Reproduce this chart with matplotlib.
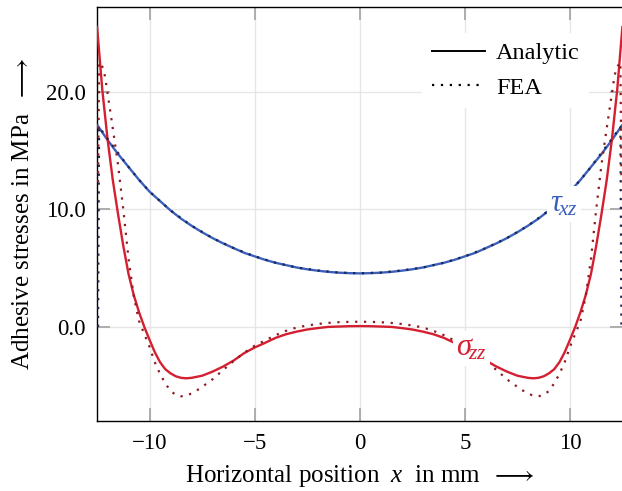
import matplotlib
matplotlib.use("Agg")
import matplotlib.pyplot as plt
from matplotlib.lines import Line2D

plt.rcParams['font.family'] = ['Liberation Serif', 'DejaVu Serif']
plt.rcParams['mathtext.fontset'] = 'custom'
plt.rcParams['mathtext.rm'] = 'Liberation Serif'
plt.rcParams['mathtext.it'] = 'Liberation Serif:italic'
plt.rcParams['mathtext.bf'] = 'Liberation Serif:bold'

# ---- data ----
x_tau = [-12.5, -12, -11.5, -11, -10.5, -10, -9.5, -9, -8.5, -8, -7.5, -7, -6.5, -6, -5.5, -5,
         -4.5, -4, -3.5, -3, -2.5, -2, -1.5, -1, -0.5, 0,
         0.5, 1, 1.5, 2, 2.5, 3, 3.5, 4, 4.5, 5, 5.5, 6, 6.5, 7, 7.5, 8, 8.5, 9, 9.5, 10,
         10.5, 11, 11.5, 12, 12.5]
tau_analytic = [17.2, 15.9, 14.7, 13.6, 12.5, 11.5, 10.7, 9.9, 9.2, 8.6, 8.05, 7.55, 7.1, 6.7, 6.3, 6.0,
                5.7, 5.45, 5.25, 5.05, 4.9, 4.78, 4.68, 4.61, 4.57, 4.55,
                4.57, 4.61, 4.68, 4.78, 4.9, 5.05, 5.25, 5.45, 5.7, 6.0, 6.3, 6.7, 7.1, 7.55, 8.05, 8.6,
                9.2, 9.9, 10.7, 11.5, 12.5, 13.6, 14.7, 15.9, 17.2]

x_sig = [-12.5, -12.25, -12, -11.75, -11.5, -11.25, -11, -10.75, -10.5, -10.25, -10, -9.75, -9.5,
         -9.25, -9, -8.75, -8.5, -8.25, -8, -7.5, -7, -6.5, -6, -5.5, -5, -4.5, -4, -3.5, -3,
         -2.5, -2, -1.5, -1, -0.5, 0,
         0.5, 1, 1.5, 2, 2.5, 3, 3.5, 4, 4.5, 5, 5.5, 6, 6.5, 7, 7.5, 8, 8.25, 8.5, 8.75, 9,
         9.25, 9.5, 9.75, 10, 10.25, 10.5, 10.75, 11, 11.25, 11.5, 11.75, 12, 12.25, 12.5]
sig_analytic = [25.6, 20.2, 16.0, 12.5, 9.6, 6.9, 4.5, 2.7, 1.25, 0.0, -1.1, -2.15, -3.0,
                -3.6, -3.95, -4.2, -4.33, -4.37, -4.33, -4.15, -3.8, -3.37, -2.86, -2.23, -1.75,
                -1.35, -0.93, -0.62, -0.4, -0.22, -0.1, 0.0, 0.03, 0.06, 0.07,
                0.06, 0.03, 0.0, -0.1, -0.22, -0.4, -0.62, -0.93, -1.35, -1.75, -2.23, -2.86,
                -3.37, -3.8, -4.15, -4.33, -4.37, -4.33, -4.2, -3.95, -3.6, -3.0, -2.15, -1.1,
                0.0, 1.25, 2.7, 4.5, 6.9, 9.6, 12.5, 16.0, 20.2, 25.6]

x_fea_tau = [-12.45, -12.4, -12, -11.5, -11, -10.5, -10, -9, -8, -7, -6, -5, -4, -3, -2, -1, 0,
             1, 2, 3, 4, 5, 6, 7, 8, 9, 10, 10.5, 11, 11.5, 12, 12.4, 12.45]
tau_fea = [0.0, 17.0, 16.0, 14.8, 13.6, 12.5, 11.5, 9.9, 8.6, 7.55, 6.7, 6.0, 5.45, 5.05, 4.8, 4.62, 4.56,
           4.62, 4.8, 5.05, 5.45, 6.0, 6.7, 7.55, 8.6, 9.9, 11.5, 12.5, 13.6, 14.8, 16.0, 17.0, 0.0]

x_fea_sig = [-12.45, -12.4, -12.2, -12.1, -12, -11.75, -11.5, -11.25, -11, -10.75, -10.5, -10.25,
             -10, -9.75, -9.5, -9.25, -9, -8.75, -8.5, -8.25, -8, -7.75, -7.5, -7, -6.5, -6,
             -5.5, -5, -4.5, -4, -3.5, -3, -2.5, -2, -1.5, -1, -0.5, 0,
             0.5, 1, 1.5, 2, 2.5, 3, 3.5, 4, 4.5, 5, 5.5, 6, 6.5, 7, 7.5, 7.75, 8, 8.25, 8.5,
             8.75, 9, 9.25, 9.5, 9.75, 10, 10.25, 10.5, 10.75, 11, 11.25, 11.5, 11.75, 12,
             12.1, 12.2, 12.4, 12.45]
sig_fea = [12.3, 22.5, 22.0, 21.1, 19.9, 16.9, 13.8, 10.0, 5.8, 2.6, 0.5, -0.6,
           -1.7, -3.0, -4.0, -4.8, -5.45, -5.78, -5.9, -5.85, -5.65, -5.4, -5.1, -4.45, -3.66, -2.9,
           -2.2, -1.6, -1.15, -0.7, -0.33, -0.05, 0.12, 0.25, 0.34, 0.4, 0.43, 0.44,
           0.43, 0.4, 0.34, 0.25, 0.12, -0.05, -0.33, -0.7, -1.15, -1.6, -2.2, -2.9, -3.66,
           -4.45, -5.1, -5.4, -5.65, -5.85, -5.9, -5.78, -5.45, -4.8, -4.0, -3.0, -1.7, -0.6,
           0.5, 2.6, 5.8, 10.0, 13.8, 16.9, 19.9, 21.1, 22.0, 22.5, 12.3]

x_ticks = [-10, -5, 0, 5, 10]
y_ticks = [0, 10, 20]
y_tick_labels = ['0.0', '10.0', '20.0']

# ---- styles ----
RED = '#d41f30'
BLUE = '#3a5fbf'
DRED = '#8c1a22'
NAVY = '#1f2748'

fig = plt.figure(figsize=(6.22, 4.91), dpi=100)
ax = fig.add_axes([97 / 622, 70 / 491, 525.5 / 622, 414 / 491])

ax.plot(x_tau, tau_analytic, color=BLUE, lw=1.7, solid_capstyle='butt', zorder=3)
ax.plot(x_sig, sig_analytic, color=RED, lw=1.7, solid_capstyle='butt', zorder=3)
ax.plot(x_fea_tau, tau_fea, color=NAVY, lw=1.6, linestyle=(0, (1, 3)), zorder=4)
ax.plot(x_fea_sig, sig_fea, color=DRED, lw=1.6, linestyle=(0, (1, 3)), zorder=4)

ax.text(9.71, 10.45, r'$\tau_{\!xz}$', color=BLUE, fontsize=22, ha='center', va='center', zorder=5,
        bbox=dict(boxstyle='square,pad=0.1', fc='white', ec='none'))
ax.text(5.3, -1.8, r'$\sigma_{\!zz}$', color=RED, fontsize=22, ha='center', va='center', zorder=5,
        bbox=dict(boxstyle='square,pad=0.1', fc='white', ec='none'))

ax.set_xlim(-12.5, 12.5)
ax.set_ylim(-8.0, 27.2)
ax.set_xticks(x_ticks)
ax.set_xticklabels(['\u2212' + str(abs(t)) if t < 0 else str(t) for t in x_ticks])
ax.set_yticks(y_ticks)
ax.set_yticklabels(y_tick_labels)
ax.tick_params(direction='in', length=9.5, width=1.3, color='#a8a8a8', labelsize=16.5,
               top=True, right=True, pad=8.5)
ax.tick_params(axis='y', pad=8)
ax.grid(True, color='#e6e6e6', lw=1.0, zorder=0)
ax.set_axisbelow(True)
for s in ax.spines.values():
    s.set_linewidth(1.0)
    s.set_color('black')

ax.set_xlabel(r'Horizontal position $\ x\ $ in mm $\ \longrightarrow$', fontsize=18, labelpad=6.5)
ax.set_ylabel(r'Adhesive stresses in MPa $\ \longrightarrow$', fontsize=18, labelpad=9)

handles = [Line2D([], [], color='black', lw=1.4),
           Line2D([], [], color='black', lw=1.6, linestyle=(0, (1, 3)))]
leg = ax.legend(handles, ['Analytic', 'FEA'], loc='upper right', bbox_to_anchor=(0.937, 0.938),
                fontsize=17.5, frameon=True, fancybox=False, framealpha=1.0, edgecolor='none',
                facecolor='white', handlelength=2.2, handletextpad=0.45, labelspacing=0.5,
                borderpad=0.4, borderaxespad=0.0)
leg.set_zorder(6)

fig.savefig('out.png', dpi=100)
